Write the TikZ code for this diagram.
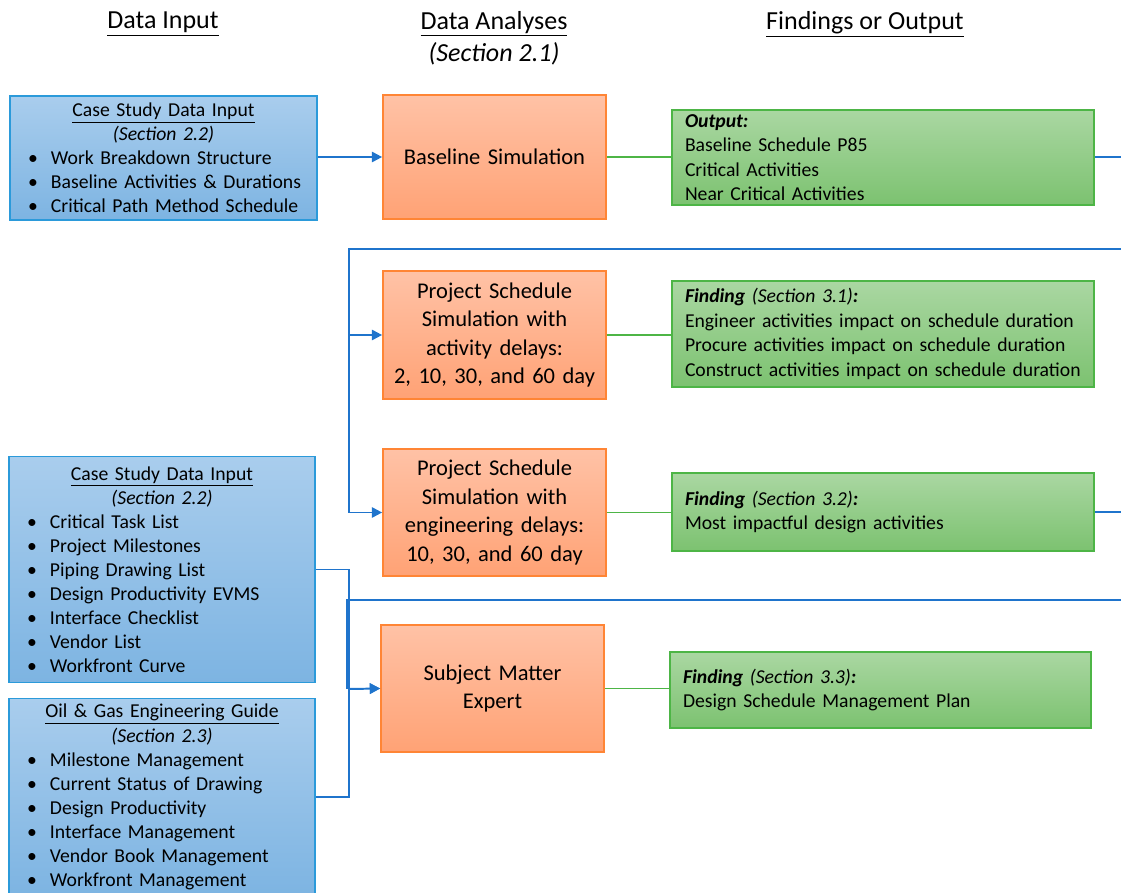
\documentclass[tikz,border=0pt]{standalone}
\usepackage{fontspec}
\setmainfont{Carlito}
\usetikzlibrary{arrows.meta}
\definecolor{inTop}{HTML}{A9CDED}
\definecolor{inBot}{HTML}{7DB4E2}
\definecolor{inLine}{HTML}{2B9ADA}
\definecolor{anTop}{HTML}{FFC2A6}
\definecolor{anBot}{HTML}{FFA275}
\definecolor{anLine}{HTML}{FF8535}
\definecolor{fdTop}{HTML}{AAD7A2}
\definecolor{fdBot}{HTML}{7CC270}
\definecolor{fdLine}{HTML}{4DB546}
\definecolor{wire}{HTML}{1F74CC}
\newcommand{\bitem}[1]{\hspace*{0.3cm}\makebox[0.575cm][l]{\textbullet}#1}
\tikzset{
  inbox/.style={draw=inLine, line width=1.2pt, top color=inTop, bottom color=inBot,
    inner xsep=6*0.025cm, inner ysep=0pt, align=left, font=\fontsize{14}{17.1}\selectfont},
  anbox/.style={draw=anLine, line width=1.2pt, top color=anTop, bottom color=anBot,
    inner sep=0pt, align=center, text width=5.2cm, font=\fontsize{16}{20.2}\selectfont},
  fdbox/.style={draw=fdLine, line width=1.2pt, top color=fdTop, bottom color=fdBot,
    inner xsep=13*0.025cm, inner ysep=0pt, align=left, font=\fontsize{14}{17.4}\selectfont},
  head/.style={align=center, font=\fontsize{18.5}{22.5}\selectfont},
  link/.style={draw=wire, line width=1.4pt},
  arr/.style={link, -{Triangle[length=0.26cm,width=0.26cm]}},
  glink/.style={draw=fdLine, line width=1.2pt},
}
\begin{document}
\begin{tikzpicture}[x=0.025cm, y=-0.025cm]
  \def\px{0.025cm}
  \useasboundingbox (0,0) rectangle (1121,893);
  \clip (0,0) rectangle (1121,893);

  % column heads
  \node[head] (hIn) at (163,24) {\underline{Data Input}};
  \node[head] (hAn) at (494,38) {\underline{Data Analyses}\\\textit{(Section 2.1)}};
  \node[head] (hOut) at (865,24) {\underline{Findings or Output}};

  % data input
  \node[inbox, text width={295*\px}, minimum height={124*\px}] (in1) at (163.5,158) {%
    {\centering\underline{Case Study Data Input}\\\textit{(Section 2.2)}\par}
    \bitem{Work Breakdown Structure}\\
    \bitem{Baseline Activities \& Durations}\\
    \bitem{Critical Path Method Schedule}};
  \node[inbox, text width={294*\px}, minimum height={226*\px}] (in2) at (162,569.5) {%
    {\centering\underline{Case Study Data Input}\\\textit{(Section 2.2)}\par}
    \bitem{Critical Task List}\\
    \bitem{Project Milestones}\\
    \bitem{Piping Drawing List}\\
    \bitem{Design Productivity EVMS}\\
    \bitem{Interface Checklist}\\
    \bitem{Vendor List}\\
    \bitem{Workfront Curve}};
  \node[inbox, text width={294*\px}, minimum height={197*\px}] (in3) at (162,797) {%
    {\centering\underline{Oil \& Gas Engineering Guide}\\\textit{(Section 2.3)}\par}
    \bitem{Milestone Management}\\
    \bitem{Current Status of Drawing}\\
    \bitem{Design Productivity}\\
    \bitem{Interface Management}\\
    \bitem{Vendor Book Management}\\
    \bitem{Workfront Management}};

  % data analyses
  \node[anbox, minimum width={223*\px}, minimum height={124*\px}] (base) at (494.5,157) {Baseline Simulation};
  \node[anbox, minimum width={223*\px}, minimum height={128*\px}] (pss1) at (494.5,335)
    {Project Schedule Simulation with activity delays:\\2, 10, 30, and 60 day};
  \node[anbox, minimum width={223*\px}, minimum height={127*\px}] (pss2) at (494.5,512.5)
    {Project Schedule Simulation with engineering delays:\\10, 30, and 60 day};
  \node[anbox, minimum width={223*\px}, minimum height={127*\px}] (sme) at (492.5,688.5)
    {Subject Matter\\Expert};

  % findings
  \node[fdbox, text width={396*\px}, minimum height={95*\px}] (out) at (883,157.5) {%
    \textbf{\textit{Output:}}\\Baseline Schedule P85\\Critical Activities\\Near Critical Activities};
  \node[fdbox, text width={396*\px}, minimum height={106*\px}] (f31) at (883,334) {%
    \textbf{\textit{Finding}} \textit{(Section 3.1)}\textbf{\textit{:}}\\
    Engineer activities impact on schedule duration\\
    Procure activities impact on schedule duration\\
    Construct activities impact on schedule duration};
  \node[fdbox, text width={396*\px}, minimum height={78*\px}] (f32) at (883,512) {%
    \textbf{\textit{Finding}} \textit{(Section 3.2)}\textbf{\textit{:}}\\
    Most impactful design activities};
  \node[fdbox, text width={395*\px}, minimum height={76*\px}] (f33) at (880.5,690) {%
    \textbf{\textit{Finding}} \textit{(Section 3.3)}\textbf{\textit{:}}\\
    Design Schedule Management Plan};

  \coordinate (edge1) at (1121,157);
  \coordinate (edge2) at (1121,512);
  \coordinate (fb1) at (1121,249);
  \coordinate (fb2) at (1121,600);
  \coordinate (j1) at (349,249);
  \coordinate (j2) at (347,600);
  \coordinate (j3) at (349,689);

  \draw[arr] (in1.east |- base.west) -- (base.west);
  \draw[glink] (base.east) -- (base.east -| out.west);
  \draw[link] (out.east |- edge1) -- (edge1);

  \draw[link] (fb1) -- (j1) -- (j1 |- pss2);
  \draw[arr] (j1 |- pss1) -- (pss1.west);
  \draw[arr] (j1 |- pss2) -- (pss2.west);
  \draw[glink] (pss1.east) -- (pss1.east -| f31.west);
  \draw[glink] (pss2.east) -- (pss2.east -| f32.west);
  \draw[link] (f32.east) -- (edge2);

  \draw[link] (in2.east) -| (j3) |- (in3.east);
  \draw[arr] (j3) -- (sme.west);
  \draw[arr] (fb2) -- (j2) |- (sme.west);
  \draw[glink] (sme.east) -- (sme.east -| f33.west);
\end{tikzpicture}
\end{document}
